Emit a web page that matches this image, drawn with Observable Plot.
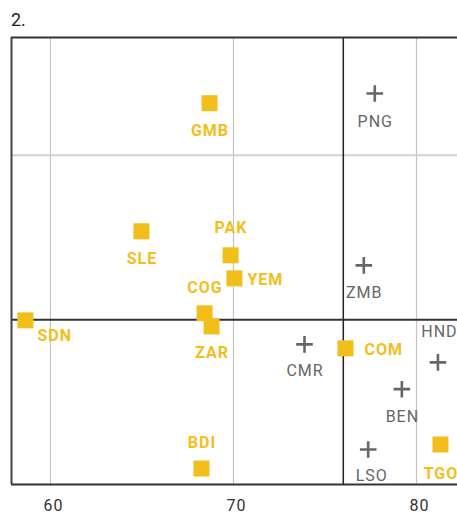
<!DOCTYPE html>
<html>
<head>
<meta charset="utf-8">
<script src="https://cdn.jsdelivr.net/npm/d3@7"></script>
<script src="https://cdn.jsdelivr.net/npm/@observablehq/plot@0.6"></script>
<style>
  html, body { margin: 0; padding: 0; background: #fff; }
  #title { box-sizing: border-box; height: 30px; padding: 11px 0 0 11px; font: 18px Roboto, sans-serif; line-height: 18px; color: #222; }
  svg { display: block; }
  svg text { letter-spacing: 1px; }
</style>
</head>
<body>
<div id="title">2.</div>
<div id="chart"></div>
<script>
// ---- data ----
const codes  = ["GMB","PNG","SLE","PAK","YEM","COG","ZAR","SDN","ZMB","HND","CMR","COM","BEN","LSO","TGO","BDI"];
const xVals  = [68.69, 77.72, 64.97, 69.84, 70.05, 68.42, 68.80, 58.63, 77.12, 81.17, 73.88, 76.12, 79.20, 77.36, 81.31, 68.25];
const yVals  = [2.316, 2.375, 1.538, 1.392, 1.252, 1.040, 0.960, 0.997, 1.331, 0.742, 0.851, 0.827, 0.579, 0.213, 0.243, 0.097];
const groups = ["A","B","A","A","A","A","A","A","B","B","B","A","B","B","A","A"];
const xTicks = [60, 70, 80];
const yGrid  = [2];
const xRef   = 76;
const yRef   = 1;

// ---- layout (label placement, not data) ----
const labelOffset = {
  GMB: [0, 28], PNG: [0, 28], SLE: [0, 28], ZMB: [0, 28], CMR: [0, 26], BEN: [0, 28],
  LSO: [3, 26], TGO: [0, 29], ZAR: [0, 26],
  PAK: [0, -27], COG: [0, -25], BDI: [0, -26], HND: [1, -30],
  YEM: [13, 2, "start"], COM: [19, 2, "start"], SDN: [12, 16, "start"]
};

const yellow = "#F2BE1A";
const grey = "#666666";
const xDomain = [57.87, 82.24];
const yDomain = [0, 2.715];

const data = codes.map((c, i) => ({code: c, x: xVals[i], y: yVals[i], g: groups[i]}));
const sq = data.filter(d => d.g === "A");
const pl = data.filter(d => d.g === "B");

const labelMarks = data.map(d => {
  const o = labelOffset[d.code];
  return Plot.text([d], {
    x: "x", y: "y", text: "code",
    dx: o[0] + (o[2] ? 0 : 0.5), dy: o[1], textAnchor: o[2] || "middle",
    fill: d.g === "A" ? yellow : grey,
    fontWeight: d.g === "A" ? "bold" : "normal",
    fontSize: 16, fontFamily: "Roboto, sans-serif"
  });
});

const chart = Plot.plot({
  width: 457,
  height: 484,
  marginLeft: 11,
  marginRight: 0,
  marginTop: 7,
  marginBottom: 30,
  style: {fontFamily: "Roboto, sans-serif", background: "#fff", overflow: "visible"},
  x: {domain: xDomain, ticks: xTicks},
  y: {domain: yDomain, axis: null},
  marks: [
    Plot.ruleX(xTicks, {stroke: "#c4c4c4", strokeWidth: 1.2}),
    Plot.ruleY(yGrid, {stroke: "#d2d2d2", strokeWidth: 2}),
    Plot.ruleX([xRef], {stroke: "#222", strokeWidth: 1.5}),
    Plot.ruleY([yRef], {stroke: "#333", strokeWidth: 2}),
    Plot.ruleX([xDomain[0]], {stroke: "#444", strokeWidth: 2}),
    Plot.ruleY([yDomain[0]], {stroke: "#333", strokeWidth: 2}),
    Plot.ruleY([yDomain[1]], {stroke: "#333", strokeWidth: 2}),
    Plot.axisX({ticks: xTicks, tickSize: 0, tickPadding: 15, dx: 3, fontSize: 16, fill: "#333", label: null}),
    Plot.dot(sq, {x: "x", y: "y", symbol: "square", r: 9.03, fill: yellow, stroke: "none"}),
    Plot.dot(pl, {x: "x", y: "y", symbol: "plus", r: 5.4, fill: "none", stroke: grey, strokeWidth: 2.6}),
    ...labelMarks
  ]
});
document.getElementById("chart").appendChild(chart);
</script>
</body>
</html>
